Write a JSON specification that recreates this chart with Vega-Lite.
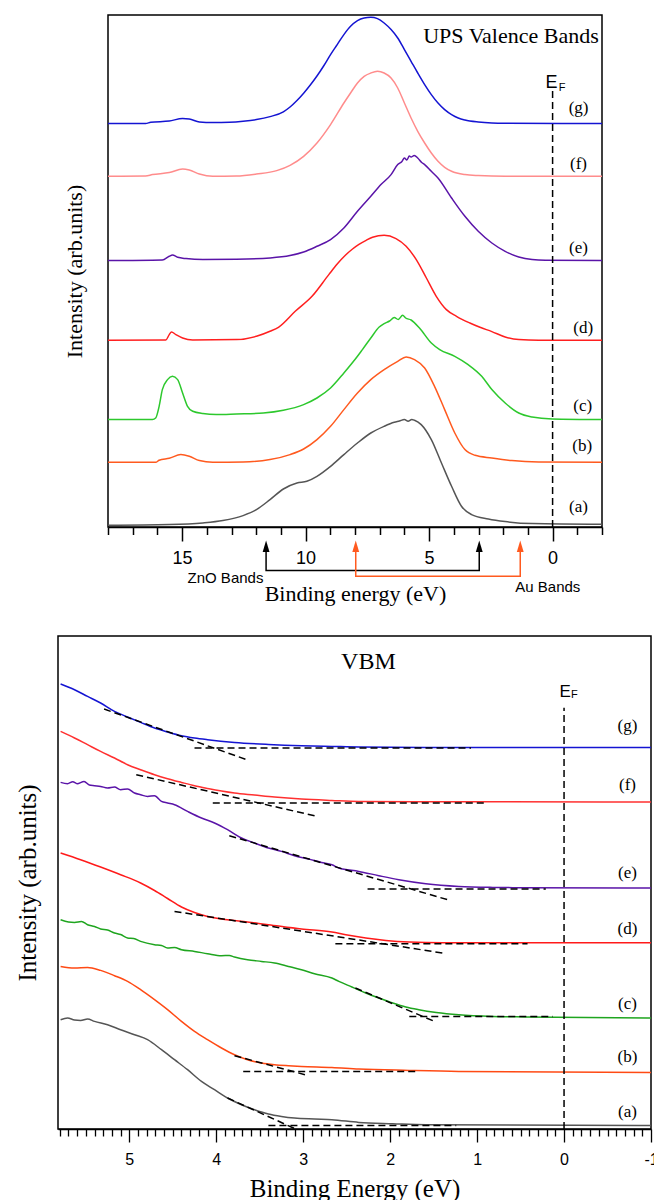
{
"$schema": "https://vega.github.io/schema/vega-lite/v6.json",
"padding": {"left": 14, "top": 13, "right": 0, "bottom": 0},
"config": {
 "view": {"stroke": "#000000", "strokeWidth": 1.5},
 "axis": {"grid": false, "domainColor": "#000000", "tickColor": "#000000", "labelColor": "#000000", "titleColor": "#000000", "titleFont": "Liberation Serif", "titleFontWeight": "normal", "labelFont": "Liberation Sans", "labelOverlap": false, "labelFlush": false, "labelBound": false},
 "text": {"color": "#000000"}
},
"datasets": {
 "top": [
  {"s":"g","x":18.0,"y":403.4},{"s":"g","x":16.48,"y":403.5},{"s":"g","x":16.27,"y":404.7},{"s":"g","x":15.52,"y":406.0},{"s":"g","x":14.98,"y":408.4},{"s":"g","x":14.71,"y":408.0},{"s":"g","x":14.30,"y":405.0},{"s":"g","x":13.76,"y":404.4},{"s":"g","x":13.08,"y":404.7},{"s":"g","x":12.53,"y":405.7},{"s":"g","x":11.99,"y":407.4},{"s":"g","x":11.44,"y":410.4},{"s":"g","x":10.90,"y":415.2},{"s":"g","x":10.63,"y":420.0},{"s":"g","x":10.35,"y":426.5},{"s":"g","x":10.08,"y":433.8},{"s":"g","x":9.81,"y":442.0},{"s":"g","x":9.54,"y":451.0},{"s":"g","x":9.27,"y":461.0},{"s":"g","x":8.99,"y":472.4},{"s":"g","x":8.72,"y":482.4},{"s":"g","x":8.45,"y":492.4},{"s":"g","x":8.18,"y":500.7},{"s":"g","x":7.90,"y":506.4},{"s":"g","x":7.63,"y":509.0},{"s":"g","x":7.36,"y":509.7},{"s":"g","x":7.09,"y":508.4},{"s":"g","x":6.82,"y":504.0},{"s":"g","x":6.54,"y":497.4},{"s":"g","x":6.27,"y":489.0},{"s":"g","x":6.00,"y":477.4},{"s":"g","x":5.73,"y":465.7},{"s":"g","x":5.46,"y":454.0},{"s":"g","x":5.18,"y":442.4},{"s":"g","x":4.91,"y":432.4},{"s":"g","x":4.64,"y":424.0},{"s":"g","x":4.37,"y":417.4},{"s":"g","x":4.09,"y":412.4},{"s":"g","x":3.82,"y":409.0},{"s":"g","x":3.55,"y":407.0},{"s":"g","x":3.01,"y":405.0},{"s":"g","x":2.46,"y":404.0},{"s":"g","x":1.92,"y":403.7},{"s":"g","x":-2.0,"y":403.4},
  {"s":"f","x":18.0,"y":350.7},{"s":"f","x":16.48,"y":351.0},{"s":"f","x":16.20,"y":352.4},{"s":"f","x":15.52,"y":354.4},{"s":"f","x":14.98,"y":358.0},{"s":"f","x":14.71,"y":357.0},{"s":"f","x":14.30,"y":353.0},{"s":"f","x":13.76,"y":350.7},{"s":"f","x":12.80,"y":351.0},{"s":"f","x":11.99,"y":353.0},{"s":"f","x":11.17,"y":356.4},{"s":"f","x":10.63,"y":361.7},{"s":"f","x":10.08,"y":370.7},{"s":"f","x":9.54,"y":384.0},{"s":"f","x":8.99,"y":402.4},{"s":"f","x":8.45,"y":424.0},{"s":"f","x":8.18,"y":434.0},{"s":"f","x":7.90,"y":444.0},{"s":"f","x":7.63,"y":450.7},{"s":"f","x":7.36,"y":454.0},{"s":"f","x":7.09,"y":455.7},{"s":"f","x":6.82,"y":454.0},{"s":"f","x":6.54,"y":449.0},{"s":"f","x":6.27,"y":439.0},{"s":"f","x":6.00,"y":424.0},{"s":"f","x":5.73,"y":409.0},{"s":"f","x":5.46,"y":395.7},{"s":"f","x":5.18,"y":384.0},{"s":"f","x":4.91,"y":374.0},{"s":"f","x":4.64,"y":365.7},{"s":"f","x":4.37,"y":359.7},{"s":"f","x":4.09,"y":355.7},{"s":"f","x":3.55,"y":352.4},{"s":"f","x":3.01,"y":351.4},{"s":"f","x":1.92,"y":350.7},{"s":"f","x":-2.0,"y":350.7},
  {"s":"e","x":18.0,"y":266.4},{"s":"e","x":15.80,"y":267.0},{"s":"e","x":15.52,"y":270.7},{"s":"e","x":15.39,"y":272.0},{"s":"e","x":15.18,"y":269.7},{"s":"e","x":14.84,"y":268.4},{"s":"e","x":14.16,"y":267.4},{"s":"e","x":12.80,"y":267.7},{"s":"e","x":11.44,"y":269.0},{"s":"e","x":10.63,"y":271.4},{"s":"e","x":10.08,"y":275.0},{"s":"e","x":9.54,"y":280.7},{"s":"e","x":8.99,"y":287.4},{"s":"e","x":8.45,"y":299.0},{"s":"e","x":7.90,"y":315.7},{"s":"e","x":7.36,"y":330.7},{"s":"e","x":6.95,"y":342.4},{"s":"e","x":6.54,"y":352.4},{"s":"e","x":6.27,"y":362.4},{"s":"e","x":6.10,"y":365.5},{"s":"e","x":6.00,"y":369.0},{"s":"e","x":5.90,"y":367.0},{"s":"e","x":5.80,"y":371.0},{"s":"e","x":5.73,"y":370.0},{"s":"e","x":5.60,"y":371.5},{"s":"e","x":5.46,"y":369.0},{"s":"e","x":5.30,"y":364.5},{"s":"e","x":5.18,"y":362.4},{"s":"e","x":4.91,"y":355.7},{"s":"e","x":4.64,"y":349.0},{"s":"e","x":4.09,"y":329.0},{"s":"e","x":3.55,"y":310.7},{"s":"e","x":3.01,"y":295.7},{"s":"e","x":2.46,"y":284.0},{"s":"e","x":1.92,"y":275.7},{"s":"e","x":1.37,"y":270.0},{"s":"e","x":0.83,"y":267.4},{"s":"e","x":0.29,"y":266.7},{"s":"e","x":-2.0,"y":266.4},
  {"s":"d","x":18.0,"y":186.7},{"s":"d","x":15.66,"y":187.0},{"s":"d","x":15.52,"y":192.4},{"s":"d","x":15.43,"y":195.0},{"s":"d","x":15.25,"y":192.4},{"s":"d","x":14.98,"y":189.0},{"s":"d","x":14.57,"y":187.0},{"s":"d","x":12.80,"y":187.4},{"s":"d","x":11.99,"y":190.7},{"s":"d","x":11.44,"y":195.7},{"s":"d","x":11.10,"y":199.7},{"s":"d","x":10.42,"y":215.7},{"s":"d","x":9.74,"y":230.7},{"s":"d","x":9.06,"y":252.4},{"s":"d","x":8.72,"y":263.0},{"s":"d","x":8.38,"y":272.0},{"s":"d","x":8.10,"y":278.0},{"s":"d","x":7.84,"y":282.6},{"s":"d","x":7.55,"y":286.7},{"s":"d","x":7.29,"y":289.7},{"s":"d","x":6.82,"y":291.7},{"s":"d","x":6.34,"y":288.4},{"s":"d","x":5.93,"y":280.7},{"s":"d","x":5.52,"y":267.4},{"s":"d","x":5.11,"y":249.0},{"s":"d","x":4.71,"y":230.7},{"s":"d","x":4.30,"y":217.4},{"s":"d","x":3.89,"y":210.7},{"s":"d","x":3.35,"y":204.0},{"s":"d","x":2.94,"y":199.7},{"s":"d","x":2.46,"y":195.4},{"s":"d","x":1.92,"y":190.0},{"s":"d","x":1.37,"y":187.4},{"s":"d","x":0.56,"y":186.7},{"s":"d","x":-2.0,"y":186.7},
  {"s":"c","x":18.0,"y":107.4},{"s":"c","x":16.20,"y":107.4},{"s":"c","x":16.07,"y":109.0},{"s":"c","x":15.93,"y":120.7},{"s":"c","x":15.80,"y":137.4},{"s":"c","x":15.59,"y":147.4},{"s":"c","x":15.39,"y":150.7},{"s":"c","x":15.18,"y":147.4},{"s":"c","x":14.98,"y":134.0},{"s":"c","x":14.78,"y":120.7},{"s":"c","x":14.57,"y":115.7},{"s":"c","x":14.16,"y":113.4},{"s":"c","x":13.62,"y":112.4},{"s":"c","x":12.80,"y":113.0},{"s":"c","x":11.71,"y":114.0},{"s":"c","x":10.90,"y":116.7},{"s":"c","x":10.08,"y":122.4},{"s":"c","x":9.54,"y":129.0},{"s":"c","x":8.99,"y":139.0},{"s":"c","x":8.45,"y":154.0},{"s":"c","x":7.90,"y":170.7},{"s":"c","x":7.70,"y":177.4},{"s":"c","x":7.36,"y":189.0},{"s":"c","x":7.02,"y":200.0},{"s":"c","x":6.82,"y":203.4},{"s":"c","x":6.60,"y":206.0},{"s":"c","x":6.41,"y":209.5},{"s":"c","x":6.25,"y":207.5},{"s":"c","x":6.07,"y":211.7},{"s":"c","x":5.95,"y":209.0},{"s":"c","x":5.73,"y":207.0},{"s":"c","x":5.39,"y":199.0},{"s":"c","x":4.91,"y":184.0},{"s":"c","x":4.57,"y":177.4},{"s":"c","x":3.96,"y":170.7},{"s":"c","x":3.42,"y":162.4},{"s":"c","x":2.87,"y":150.7},{"s":"c","x":2.46,"y":137.4},{"s":"c","x":1.92,"y":124.0},{"s":"c","x":1.37,"y":114.0},{"s":"c","x":0.83,"y":110.0},{"s":"c","x":0.01,"y":108.0},{"s":"c","x":-2.0,"y":107.4},
  {"s":"b","x":18.0,"y":64.7},{"s":"b","x":16.07,"y":64.7},{"s":"b","x":15.93,"y":66.7},{"s":"b","x":15.52,"y":68.7},{"s":"b","x":15.05,"y":72.4},{"s":"b","x":14.71,"y":70.7},{"s":"b","x":14.30,"y":66.4},{"s":"b","x":13.76,"y":64.7},{"s":"b","x":12.53,"y":65.0},{"s":"b","x":11.44,"y":67.4},{"s":"b","x":10.63,"y":72.4},{"s":"b","x":10.08,"y":78.0},{"s":"b","x":9.54,"y":87.4},{"s":"b","x":8.99,"y":100.7},{"s":"b","x":8.45,"y":117.4},{"s":"b","x":7.90,"y":134.0},{"s":"b","x":7.36,"y":147.4},{"s":"b","x":6.82,"y":157.4},{"s":"b","x":6.27,"y":165.7},{"s":"b","x":5.93,"y":170.0},{"s":"b","x":5.59,"y":167.4},{"s":"b","x":5.18,"y":159.0},{"s":"b","x":4.78,"y":140.7},{"s":"b","x":4.37,"y":117.4},{"s":"b","x":3.96,"y":94.0},{"s":"b","x":3.55,"y":77.4},{"s":"b","x":3.14,"y":71.7},{"s":"b","x":2.46,"y":69.0},{"s":"b","x":1.65,"y":66.4},{"s":"b","x":0.56,"y":65.0},{"s":"b","x":-2.0,"y":64.7},
  {"s":"a","x":18.0,"y":1.7},{"s":"a","x":15.52,"y":2.4},{"s":"a","x":14.16,"y":4.0},{"s":"a","x":13.35,"y":6.4},{"s":"a","x":12.53,"y":11.4},{"s":"a","x":11.99,"y":17.4},{"s":"a","x":11.44,"y":27.4},{"s":"a","x":10.90,"y":38.0},{"s":"a","x":10.35,"y":44.0},{"s":"a","x":9.95,"y":45.7},{"s":"a","x":9.54,"y":50.7},{"s":"a","x":8.99,"y":60.7},{"s":"a","x":8.45,"y":72.4},{"s":"a","x":7.90,"y":84.0},{"s":"a","x":7.36,"y":94.0},{"s":"a","x":6.82,"y":100.7},{"s":"a","x":6.41,"y":104.7},{"s":"a","x":6.20,"y":106.0},{"s":"a","x":6.00,"y":107.4},{"s":"a","x":5.85,"y":105.8},{"s":"a","x":5.70,"y":107.5},{"s":"a","x":5.59,"y":106.7},{"s":"a","x":5.32,"y":102.4},{"s":"a","x":4.91,"y":87.4},{"s":"a","x":4.50,"y":64.0},{"s":"a","x":4.09,"y":40.7},{"s":"a","x":3.69,"y":20.7},{"s":"a","x":3.28,"y":12.4},{"s":"a","x":2.60,"y":8.0},{"s":"a","x":1.92,"y":5.4},{"s":"a","x":0.83,"y":3.4},{"s":"a","x":-2.0,"y":2.7}
 ],
 "bot": [
  {"s":"g","x":5.79,"y":445.0},{"s":"g","x":5.63,"y":439.3},{"s":"g","x":5.48,"y":432.6},{"s":"g","x":5.33,"y":426.0},{"s":"g","x":5.17,"y":417.6},{"s":"g","x":5.02,"y":412.0},{"s":"g","x":4.87,"y":406.6},{"s":"g","x":4.71,"y":401.0},{"s":"g","x":4.56,"y":397.0},{"s":"g","x":4.40,"y":393.3},{"s":"g","x":4.25,"y":391.0},{"s":"g","x":4.10,"y":389.3},{"s":"g","x":3.79,"y":386.6},{"s":"g","x":3.40,"y":384.6},{"s":"g","x":3.02,"y":383.3},{"s":"g","x":2.67,"y":382.6},{"s":"g","x":2.36,"y":382.0},{"s":"g","x":1.59,"y":381.6},{"s":"g","x":-1.0,"y":381.6},
  {"s":"f","x":5.79,"y":397.6},{"s":"f","x":5.63,"y":391.0},{"s":"f","x":5.48,"y":384.3},{"s":"f","x":5.33,"y":377.6},{"s":"f","x":5.17,"y":371.0},{"s":"f","x":5.02,"y":364.3},{"s":"f","x":4.87,"y":359.3},{"s":"f","x":4.71,"y":354.3},{"s":"f","x":4.56,"y":350.3},{"s":"f","x":4.40,"y":346.6},{"s":"f","x":4.25,"y":343.3},{"s":"f","x":4.10,"y":340.6},{"s":"f","x":3.94,"y":338.0},{"s":"f","x":3.79,"y":336.0},{"s":"f","x":3.56,"y":334.0},{"s":"f","x":3.33,"y":332.0},{"s":"f","x":3.02,"y":330.0},{"s":"f","x":2.67,"y":328.6},{"s":"f","x":2.36,"y":327.6},{"s":"f","x":1.59,"y":327.3},{"s":"f","x":-1.0,"y":327.0},
  {"s":"e","x":5.79,"y":346.6},{"s":"e","x":5.71,"y":345.3},{"s":"e","x":5.65,"y":347.3},{"s":"e","x":5.60,"y":345.3},{"s":"e","x":5.52,"y":347.6},{"s":"e","x":5.46,"y":344.0},{"s":"e","x":5.40,"y":343.3},{"s":"e","x":5.33,"y":342.6},{"s":"e","x":5.25,"y":341.0},{"s":"e","x":5.17,"y":342.0},{"s":"e","x":5.10,"y":339.3},{"s":"e","x":5.02,"y":340.0},{"s":"e","x":4.94,"y":336.0},{"s":"e","x":4.87,"y":334.3},{"s":"e","x":4.79,"y":332.6},{"s":"e","x":4.71,"y":333.3},{"s":"e","x":4.63,"y":327.6},{"s":"e","x":4.56,"y":326.0},{"s":"e","x":4.48,"y":324.3},{"s":"e","x":4.33,"y":317.6},{"s":"e","x":4.17,"y":311.0},{"s":"e","x":4.02,"y":306.0},{"s":"e","x":3.87,"y":299.3},{"s":"e","x":3.71,"y":291.0},{"s":"e","x":3.56,"y":286.0},{"s":"e","x":3.40,"y":281.0},{"s":"e","x":3.25,"y":277.6},{"s":"e","x":3.10,"y":273.3},{"s":"e","x":2.94,"y":270.0},{"s":"e","x":2.79,"y":266.6},{"s":"e","x":2.67,"y":264.3},{"s":"e","x":2.59,"y":261.0},{"s":"e","x":2.36,"y":257.6},{"s":"e","x":2.13,"y":253.3},{"s":"e","x":1.90,"y":249.3},{"s":"e","x":1.59,"y":245.3},{"s":"e","x":1.21,"y":242.6},{"s":"e","x":0.82,"y":241.6},{"s":"e","x":0.44,"y":241.3},{"s":"e","x":-1.0,"y":241.0},
  {"s":"d","x":5.79,"y":276.0},{"s":"d","x":5.56,"y":269.3},{"s":"d","x":5.33,"y":262.0},{"s":"d","x":5.10,"y":254.3},{"s":"d","x":4.87,"y":246.0},{"s":"d","x":4.71,"y":238.5},{"s":"d","x":4.56,"y":230.5},{"s":"d","x":4.40,"y":222.0},{"s":"d","x":4.25,"y":216.5},{"s":"d","x":4.10,"y":212.6},{"s":"d","x":3.94,"y":210.0},{"s":"d","x":3.79,"y":208.6},{"s":"d","x":3.40,"y":204.3},{"s":"d","x":3.02,"y":200.0},{"s":"d","x":2.67,"y":197.0},{"s":"d","x":2.51,"y":194.3},{"s":"d","x":2.28,"y":191.0},{"s":"d","x":2.05,"y":188.6},{"s":"d","x":1.78,"y":187.0},{"s":"d","x":1.40,"y":186.3},{"s":"d","x":-1.0,"y":186.3},
  {"s":"c","x":5.79,"y":209.3},{"s":"c","x":5.70,"y":207.0},{"s":"c","x":5.63,"y":206.6},{"s":"c","x":5.55,"y":207.5},{"s":"c","x":5.48,"y":204.3},{"s":"c","x":5.40,"y":202.5},{"s":"c","x":5.33,"y":200.0},{"s":"c","x":5.25,"y":199.0},{"s":"c","x":5.17,"y":196.0},{"s":"c","x":5.10,"y":194.5},{"s":"c","x":5.02,"y":191.0},{"s":"c","x":4.95,"y":190.5},{"s":"c","x":4.87,"y":187.6},{"s":"c","x":4.71,"y":184.3},{"s":"c","x":4.63,"y":183.5},{"s":"c","x":4.56,"y":181.0},{"s":"c","x":4.48,"y":181.5},{"s":"c","x":4.40,"y":179.3},{"s":"c","x":4.25,"y":177.6},{"s":"c","x":4.10,"y":175.3},{"s":"c","x":3.94,"y":173.3},{"s":"c","x":3.85,"y":173.5},{"s":"c","x":3.79,"y":172.0},{"s":"c","x":3.64,"y":169.3},{"s":"c","x":3.48,"y":167.6},{"s":"c","x":3.33,"y":166.0},{"s":"c","x":3.17,"y":162.6},{"s":"c","x":3.02,"y":159.3},{"s":"c","x":2.87,"y":155.3},{"s":"c","x":2.67,"y":151.0},{"s":"c","x":2.59,"y":147.6},{"s":"c","x":2.44,"y":142.0},{"s":"c","x":2.28,"y":136.0},{"s":"c","x":2.13,"y":131.0},{"s":"c","x":1.97,"y":126.0},{"s":"c","x":1.82,"y":122.0},{"s":"c","x":1.67,"y":119.3},{"s":"c","x":1.47,"y":116.6},{"s":"c","x":1.21,"y":114.3},{"s":"c","x":0.82,"y":112.6},{"s":"c","x":0.44,"y":112.0},{"s":"c","x":-1.0,"y":111.0},
  {"s":"b","x":5.79,"y":162.6},{"s":"b","x":5.63,"y":161.0},{"s":"b","x":5.48,"y":161.6},{"s":"b","x":5.33,"y":158.6},{"s":"b","x":5.17,"y":153.3},{"s":"b","x":5.02,"y":147.6},{"s":"b","x":4.87,"y":139.3},{"s":"b","x":4.71,"y":129.3},{"s":"b","x":4.56,"y":119.3},{"s":"b","x":4.40,"y":107.6},{"s":"b","x":4.25,"y":97.6},{"s":"b","x":4.10,"y":89.3},{"s":"b","x":3.94,"y":81.0},{"s":"b","x":3.79,"y":74.3},{"s":"b","x":3.64,"y":69.3},{"s":"b","x":3.48,"y":66.0},{"s":"b","x":3.33,"y":64.3},{"s":"b","x":3.17,"y":63.3},{"s":"b","x":3.02,"y":62.6},{"s":"b","x":2.67,"y":61.6},{"s":"b","x":2.36,"y":60.0},{"s":"b","x":1.78,"y":58.6},{"s":"b","x":1.21,"y":57.6},{"s":"b","x":-1.0,"y":56.6},
  {"s":"a","x":5.79,"y":109.3},{"s":"a","x":5.71,"y":111.0},{"s":"a","x":5.63,"y":109.0},{"s":"a","x":5.56,"y":108.6},{"s":"a","x":5.48,"y":110.0},{"s":"a","x":5.40,"y":107.6},{"s":"a","x":5.25,"y":104.3},{"s":"a","x":5.10,"y":99.3},{"s":"a","x":4.94,"y":94.3},{"s":"a","x":4.79,"y":89.3},{"s":"a","x":4.63,"y":79.3},{"s":"a","x":4.48,"y":69.3},{"s":"a","x":4.33,"y":59.3},{"s":"a","x":4.17,"y":47.6},{"s":"a","x":4.02,"y":39.3},{"s":"a","x":3.87,"y":31.0},{"s":"a","x":3.71,"y":24.3},{"s":"a","x":3.56,"y":19.3},{"s":"a","x":3.40,"y":15.0},{"s":"a","x":3.25,"y":12.6},{"s":"a","x":3.10,"y":11.0},{"s":"a","x":2.87,"y":10.0},{"s":"a","x":2.67,"y":9.3},{"s":"a","x":2.36,"y":6.6},{"s":"a","x":1.97,"y":5.3},{"s":"a","x":1.59,"y":4.3},{"s":"a","x":-1.0,"y":3.6}
 ],
 "dash": [
  {"id":"g1","x":5.29,"y":420.0},{"id":"g1","x":3.65,"y":369.3},
  {"id":"g2","x":4.25,"y":381.0},{"id":"g2","x":1.07,"y":381.0},
  {"id":"f1","x":4.92,"y":354.3},{"id":"f1","x":2.84,"y":312.6},
  {"id":"f2","x":4.04,"y":326.0},{"id":"f2","x":0.88,"y":326.0},
  {"id":"e1","x":3.85,"y":293.3},{"id":"e1","x":1.34,"y":229.3},
  {"id":"e2","x":2.26,"y":240.0},{"id":"e2","x":0.21,"y":240.0},
  {"id":"d1","x":4.48,"y":217.6},{"id":"d1","x":1.40,"y":176.0},
  {"id":"d2","x":2.63,"y":185.3},{"id":"d2","x":0.42,"y":185.3},
  {"id":"c1","x":2.40,"y":141.0},{"id":"c1","x":1.49,"y":107.6},
  {"id":"c2","x":1.78,"y":112.6},{"id":"c2","x":0.13,"y":112.6},
  {"id":"b1","x":3.79,"y":73.3},{"id":"b1","x":2.98,"y":54.3},
  {"id":"b2","x":3.69,"y":57.6},{"id":"b2","x":1.67,"y":57.6},
  {"id":"a1","x":3.87,"y":31.0},{"id":"a1","x":3.10,"y":0.5},
  {"id":"a2","x":3.40,"y":3.6},{"id":"a2","x":1.24,"y":3.6},
  {"id":"EF","x":0,"y":0},{"id":"EF","x":0,"y":421.3}
 ],
 "arrows": [
  {"s":"ZnO","o":1,"x":11.6,"y":-19.3},{"s":"ZnO","o":2,"x":11.6,"y":-43.6},{"s":"ZnO","o":3,"x":2.97,"y":-43.6},{"s":"ZnO","o":4,"x":2.97,"y":-19.3},
  {"s":"Au","o":1,"x":7.97,"y":-19.3},{"s":"Au","o":2,"x":7.97,"y":-49.3},{"s":"Au","o":3,"x":1.31,"y":-49.3},{"s":"Au","o":4,"x":1.31,"y":-19.3}
 ],
 "heads": [
  {"s":"ZnO","x":11.6,"y":-19.3},{"s":"ZnO","x":2.97,"y":-19.3},{"s":"Au","x":7.97,"y":-19.3},{"s":"Au","x":1.31,"y":-19.3}
 ],
 "tlab": [
  {"x":-1.05,"y":419.0,"t":"(g)"},{"x":-1.05,"y":362.7,"t":"(f)"},{"x":-1.05,"y":278.7,"t":"(e)"},{"x":-1.24,"y":199.0,"t":"(d)"},{"x":-1.22,"y":120.7,"t":"(c)"},{"x":-1.2,"y":81.4,"t":"(b)"},{"x":-1.05,"y":20.0,"t":"(a)"}
 ],
 "blab": [
  {"x":-0.73,"y":402.6,"t":"(g)"},{"x":-0.73,"y":343.6,"t":"(f)"},{"x":-0.73,"y":256.0,"t":"(e)"},{"x":-0.73,"y":200.0,"t":"(d)"},{"x":-0.73,"y":125.3,"t":"(c)"},{"x":-0.73,"y":72.0,"t":"(b)"},{"x":-0.73,"y":16.6,"t":"(a)"}
 ]
},
"vconcat": [
 {"hconcat": [
   {"width": 4, "height": 10, "view": {"stroke": null}, "data": {"values": [{"x": 0}]}, "mark": {"type": "text", "text": ""}, "encoding": {}},
   {"width": 494, "height": 512,
    "encoding": {
     "x": {"field": "x", "type": "quantitative", "scale": {"domain": [-2, 18], "reverse": true, "nice": false, "zero": false},
           "axis": {"title": "Binding energy (eV)", "values": [18,17,16,15,14,13,12,11,10,9,8,7,6,5,4,3,2,1,0,-1,-2],
                    "tickSize": {"condition": {"test": "datum.value % 5 === 0", "value": 14}, "value": 7.5},
                    "labelExpr": "datum.value % 5 === 0 ? '' + datum.value : ''",
                    "labelFontSize": 18, "labelPadding": 8, "tickWidth": 1.5, "domainWidth": 1.5,
                    "titleFontSize": 22, "titlePadding": 16}},
     "y": {"field": "y", "type": "quantitative", "scale": {"domain": [0, 512], "nice": false, "zero": false},
           "axis": {"title": "Intensity (arb.units)", "ticks": false, "labels": false, "domain": false, "titleFontSize": 22, "titlePadding": 22}}
    },
    "layer": [
     {"data": {"name": "top"}, "mark": {"type": "line", "strokeWidth": 1.5, "interpolate": "monotone"},
      "encoding": {
       "color": {"field": "s", "type": "nominal", "legend": null,
                 "scale": {"domain": ["a","b","c","d","e","f","g","ZnO","Au"], "range": ["#555555","#ff5a1f","#2dc82d","#ff1f1f","#5a14a8","#ff8c8c","#1414d2","#000000","#ff5a1f"]}}
      }},
     {"data": {"values": [{"x": 0, "y": 0}, {"x": 0, "y": 438.7}]}, "mark": {"type": "line", "color": "#000000", "strokeWidth": 1.5, "strokeDash": [7, 4]},
      "encoding": {}},
     {"data": {"name": "arrows"}, "mark": {"type": "line", "strokeWidth": 1.5},
      "encoding": {"color": {"field": "s", "type": "nominal"}, "order": {"field": "o", "type": "quantitative"}}},
     {"data": {"name": "heads"}, "mark": {"type": "point", "filled": true, "opacity": 1, "shape": "M0,-1L0.6,1L-0.6,1Z", "size": 130},
      "encoding": {"color": {"field": "s", "type": "nominal"}}},
     {"data": {"name": "tlab"}, "mark": {"type": "text", "font": "Liberation Serif", "fontSize": 17, "align": "center", "baseline": "middle"},
      "encoding": {"text": {"field": "t"}}},
     {"data": {"values": [{"x": -1.87, "y": 484, "t": "UPS Valence Bands"}]}, "mark": {"type": "text", "font": "Liberation Serif", "fontSize": 22, "align": "right", "baseline": "alphabetic"},
      "encoding": {"text": {"field": "t"}}},
     {"data": {"values": [{"x": 0.04, "y": 439.5, "t": "E"}]}, "mark": {"type": "text", "font": "Liberation Sans", "fontSize": 18, "align": "center", "baseline": "alphabetic"},
      "encoding": {"text": {"field": "t"}}},
     {"data": {"values": [{"x": -0.38, "y": 436.5, "t": "F"}]}, "mark": {"type": "text", "font": "Liberation Sans", "fontSize": 11, "align": "center", "baseline": "alphabetic"},
      "encoding": {"text": {"field": "t"}}},
     {"data": {"values": [{"x": 14.78, "y": -56, "t": "ZnO Bands"}, {"x": 1.51, "y": -65.3, "t": "Au Bands"}]}, "mark": {"type": "text", "font": "Liberation Sans", "fontSize": 15, "align": "left", "baseline": "alphabetic"},
      "encoding": {"text": {"field": "t"}}}
    ]}
  ], "spacing": 0},
 {"width": 593, "height": 493,
  "encoding": {
   "x": {"field": "x", "type": "quantitative", "scale": {"domain": [-1, 5.82], "reverse": true, "nice": false, "zero": false},
         "axis": {"title": "Binding Energy (eV)", "values": [5.8,5.7,5.6,5.5,5.4,5.3,5.2,5.1,5,4.9,4.8,4.7,4.6,4.5,4.4,4.3,4.2,4.1,4,3.9,3.8,3.7,3.6,3.5,3.4,3.3,3.2,3.1,3,2.9,2.8,2.7,2.6,2.5,2.4,2.3,2.2,2.1,2,1.9,1.8,1.7,1.6,1.5,1.4,1.3,1.2,1.1,1,0.9,0.8,0.7,0.6,0.5,0.4,0.3,0.2,0.1,0,-0.1,-0.2,-0.3,-0.4,-0.5,-0.6,-0.7,-0.8,-0.9,-1],
                  "tickSize": {"condition": {"test": "abs(datum.value - round(datum.value)) < 0.01", "value": 13}, "value": 7},
                  "labelExpr": "abs(datum.value - round(datum.value)) < 0.01 ? '' + round(datum.value) : ''",
                  "labelFontSize": 16, "labelPadding": 9, "tickWidth": 1.3, "domainWidth": 1.5,
                  "titleFontSize": 25, "titlePadding": 9}},
   "y": {"field": "y", "type": "quantitative", "scale": {"domain": [0, 493], "nice": false, "zero": false},
         "axis": {"title": "Intensity (arb.units)", "ticks": false, "labels": false, "domain": false, "titleFontSize": 25, "titlePadding": 18}}
  },
  "layer": [
   {"data": {"name": "bot"}, "mark": {"type": "line", "strokeWidth": 1.5, "interpolate": "monotone"},
    "encoding": {
     "color": {"field": "s", "type": "nominal", "legend": null,
               "scale": {"domain": ["a","b","c","d","e","f","g"], "range": ["#555555","#ff4a14","#1fa51f","#ff1a1a","#5a14a8","#ff3030","#1414d2"]}}
    }},
   {"data": {"name": "dash"}, "mark": {"type": "line", "color": "#000000", "strokeWidth": 1.5, "strokeDash": [7, 4]},
    "encoding": {"detail": {"field": "id", "type": "nominal"}}},
   {"data": {"name": "blab"}, "mark": {"type": "text", "font": "Liberation Serif", "fontSize": 17, "align": "center", "baseline": "middle"},
    "encoding": {"text": {"field": "t"}}},
   {"data": {"values": [{"x": 2.25, "y": 467, "t": "VBM"}]}, "mark": {"type": "text", "font": "Liberation Serif", "fontSize": 24, "align": "center", "baseline": "middle"},
    "encoding": {"text": {"field": "t"}}},
   {"data": {"values": [{"x": -0.014, "y": 432.5, "t": "E"}]}, "mark": {"type": "text", "font": "Liberation Sans", "fontSize": 17, "align": "center", "baseline": "alphabetic"},
    "encoding": {"text": {"field": "t"}}},
   {"data": {"values": [{"x": -0.12, "y": 430.8, "t": "F"}]}, "mark": {"type": "text", "font": "Liberation Sans", "fontSize": 11, "align": "center", "baseline": "alphabetic"},
    "encoding": {"text": {"field": "t"}}}
  ]}
],
"spacing": 30,
"resolve": {"scale": {"color": "independent", "x": "independent", "y": "independent"}}
}
